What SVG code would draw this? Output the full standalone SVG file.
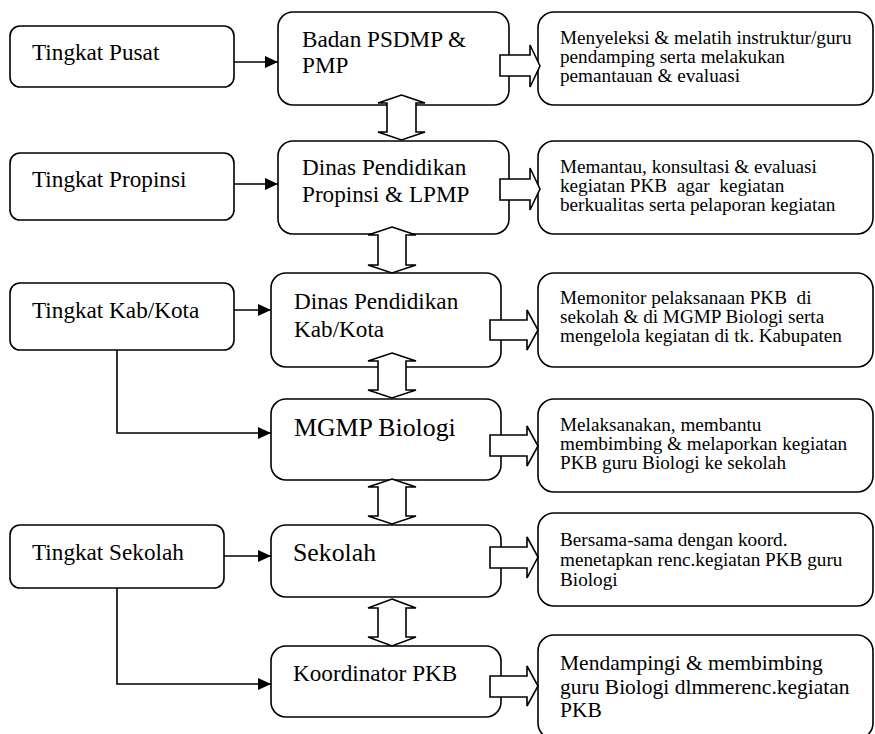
<svg xmlns="http://www.w3.org/2000/svg" width="875" height="734" viewBox="0 0 875 734">
<style>
.box{fill:#fff;stroke:#000;stroke-width:1.6}
text{font-family:'Liberation Serif','Times New Roman','DejaVu Serif',serif;fill:#000}
.main{font-size:23.2px}
.big{font-size:25.8px}
.desc{font-size:19.2px}
.desc2{font-size:21.5px}
.line{stroke:#000;stroke-width:1.6;fill:none}
.blk{fill:#fff;stroke:#000;stroke-width:1.6;stroke-linejoin:miter}
</style>
<defs>
<marker id="ah" markerUnits="userSpaceOnUse" markerWidth="13" markerHeight="12" refX="13" refY="6" orient="auto">
<path d="M0,0 L13,6 L0,12 Z" fill="#000"/>
</marker>
</defs>
<rect width="875" height="734" fill="#fff"/>

<g id="tingkat-pusat"><rect class="box" x="10" y="26" width="224" height="61" rx="10"/><text class="main" x="32" y="60">Tingkat Pusat</text></g>
<g id="tingkat-propinsi"><rect class="box" x="10" y="153" width="224" height="67" rx="10"/><text class="main" x="32" y="187">Tingkat Propinsi</text></g>
<g id="tingkat-kab"><rect class="box" x="10" y="283" width="224" height="67" rx="10"/><text class="main" x="32" y="318">Tingkat Kab/Kota</text></g>
<g id="tingkat-sekolah"><rect class="box" x="10" y="525" width="214" height="63" rx="10"/><text class="main" x="32" y="560">Tingkat Sekolah</text></g>

<g id="badan"><rect class="box" x="278" y="12" width="231" height="93" rx="15"/><text class="main" x="302" y="47">Badan PSDMP &amp;</text><text class="main" x="302" y="73">PMP</text></g>
<g id="dinas-prop"><rect class="box" x="278" y="141" width="231" height="93" rx="15"/><text class="main" x="302" y="175">Dinas Pendidikan</text><text class="main" x="302" y="202">Propinsi &amp; LPMP</text></g>
<g id="dinas-kab"><rect class="box" x="271" y="273" width="230" height="94" rx="15"/><text class="main" x="294" y="309">Dinas Pendidikan</text><text class="main" x="294" y="337">Kab/Kota</text></g>
<g id="mgmp"><rect class="box" x="271" y="399" width="230" height="81" rx="15"/><text class="big" x="294" y="436">MGMP Biologi</text></g>
<g id="sekolah"><rect class="box" x="271" y="525" width="230" height="72" rx="15"/><text class="big" x="293" y="561">Sekolah</text></g>
<g id="koordinator"><rect class="box" x="271" y="646" width="230" height="71" rx="15"/><text class="main" x="293" y="681">Koordinator PKB</text></g>

<g id="desc-1"><rect class="box" x="538" y="12" width="335" height="93" rx="16"/><text class="desc" x="560" y="44">Menyeleksi &amp; melatih instruktur/guru</text><text class="desc" x="560" y="63">pendamping serta melakukan</text><text class="desc" x="560" y="82">pemantauan &amp; evaluasi</text></g>
<g id="desc-2"><rect class="box" x="538" y="141" width="335" height="93" rx="16"/><text class="desc" x="560" y="173">Memantau, konsultasi &amp; evaluasi</text><text class="desc" x="560" y="192" xml:space="preserve">kegiatan PKB  agar  kegiatan</text><text class="desc" x="560" y="211">berkualitas serta pelaporan kegiatan</text></g>
<g id="desc-3"><rect class="box" x="538" y="273" width="335" height="94" rx="16"/><text class="desc" x="560" y="304" xml:space="preserve">Memonitor pelaksanaan PKB  di</text><text class="desc" x="560" y="323">sekolah &amp; di MGMP Biologi serta</text><text class="desc" x="560" y="342">mengelola kegiatan di tk. Kabupaten</text></g>
<g id="desc-4"><rect class="box" x="538" y="399" width="335" height="93" rx="16"/><text class="desc" x="560" y="431">Melaksanakan, membantu</text><text class="desc" x="560" y="450">membimbing &amp; melaporkan kegiatan</text><text class="desc" x="560" y="469">PKB guru Biologi ke sekolah</text></g>
<g id="desc-5"><rect class="box" x="538" y="513" width="335" height="93" rx="16"/><text class="desc" x="560" y="546">Bersama-sama dengan koord.</text><text class="desc" x="560" y="566">menetapkan renc.kegiatan PKB guru</text><text class="desc" x="560" y="586">Biologi</text></g>
<g id="desc-6"><rect class="box" x="538" y="635" width="335" height="104" rx="16"/><text class="desc2" x="560" y="670">Mendampingi &amp; membimbing</text><text class="desc2" x="560" y="694">guru Biologi dlmmerenc.kegiatan</text><text class="desc2" x="560" y="717">PKB</text></g>

<g id="connectors">
<line class="line" x1="234" y1="62" x2="278" y2="62" marker-end="url(#ah)"/>
<line class="line" x1="234" y1="184" x2="278" y2="184" marker-end="url(#ah)"/>
<line class="line" x1="234" y1="310" x2="271" y2="310" marker-end="url(#ah)"/>
<polyline class="line" points="117,350 117,433 271,433" marker-end="url(#ah)"/>
<line class="line" x1="224" y1="556" x2="271" y2="556" marker-end="url(#ah)"/>
<polyline class="line" points="117,588 117,684 271,684" marker-end="url(#ah)"/>

<path class="blk" d="M500,55 H530 V45 L540,66 L530,87 V76 H500 Z"/>
<path class="blk" d="M500,179 H530 V168 L540,189 L530,210 V200 H500 Z"/>
<path class="blk" d="M490,320 H527 V310 L538,330 L527,350 V340 H490 Z"/>
<path class="blk" d="M490,435 H527 V426 L538,446 L527,466 V456 H490 Z"/>
<path class="blk" d="M490,547 H527 V537 L538,557 L527,578 V568 H490 Z"/>
<path class="blk" d="M490,676 H527 V666 L538,686 L527,706 V697 H490 Z"/>

<path class="blk" d="M401.5,95 L425,103 H416 V132 H425 L401.5,140 L378,132 H387 V103 H378 Z"/>
<path class="blk" d="M392,227 L416,235 H406 V265 H416 L392,273 L368,265 H378 V235 H368 Z"/>
<path class="blk" d="M392,353 L416,361 H406 V390 H416 L392,398 L368,390 H378 V361 H368 Z"/>
<path class="blk" d="M392,479 L416,487 H406 V516 H416 L392,524 L368,516 H378 V487 H368 Z"/>
<path class="blk" d="M392,599 L416,608 H406 V637 H416 L392,646 L368,637 H378 V608 H368 Z"/>
</g>
</svg>
